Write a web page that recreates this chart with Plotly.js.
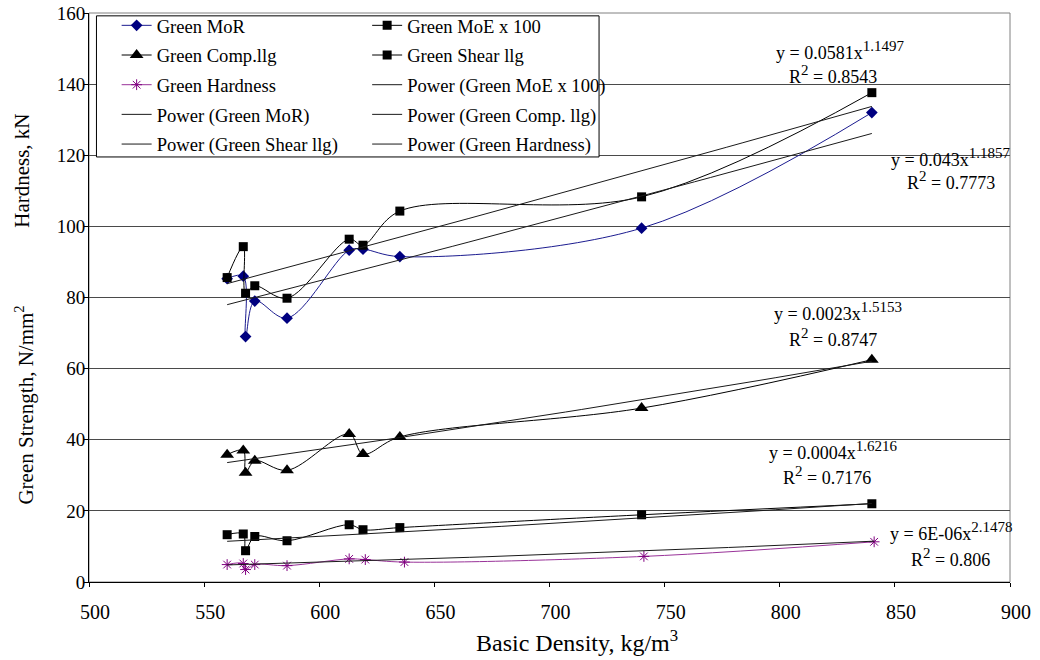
<!DOCTYPE html>
<html>
<head>
<meta charset="utf-8">
<script src="https://cdn.plot.ly/plotly-3.0.1.min.js"></script>
<style>html,body{margin:0;padding:0;background:#fff;}#chart{width:1040px;height:660px;}</style>
</head>
<body>
<div id="chart"></div>
<script>
// ---- data ----
const density = [560, 567, 568, 572, 586, 613, 619, 635, 740, 840];
const densityHardness = [560, 567, 568, 572, 586, 613, 620, 637, 741, 841];
const greenMoR = [85.3, 86.0, 69.0, 79.0, 74.2, 93.3, 93.6, 91.5, 99.5, 132.0];
const greenMoE100 = [85.6, 94.3, 81.2, 83.3, 79.8, 96.4, 94.7, 104.3, 108.3, 137.6];
const greenComp = [35.8, 37.0, 30.7, 34.1, 31.4, 41.6, 36.0, 40.8, 48.9, 62.5];
const greenShear = [13.3, 13.5, 8.8, 12.8, 11.6, 16.1, 14.7, 15.3, 18.9, 22.0];
const greenHardness = [4.9, 5.2, 3.5, 4.9, 4.6, 6.5, 6.3, 5.6, 7.2, 11.3];

// power trendline coefficients as printed on the chart (y = a x^b)
const trendNames = ["Power (Green MoE x 100)", "Power (Green MoR)", "Power (Green Comp. llg)", "Power (Green Shear llg)", "Power (Green Hardness)"];
const trendA = [0.0581, 0.043, 0.0023, 0.0004, 6e-6];
const trendB = [1.1497, 1.1857, 1.5153, 1.6216, 2.1478];
const trendR2 = ["0.8543", "0.7773", "0.8747", "0.7176", "0.806"];
const trendCoefText = ["0.0581", "0.043", "0.0023", "0.0004", "6E-06"];
const trendExpText = ["1.1497", "1.1857", "1.5153", "1.6216", "2.1478"];

const FONT = "Liberation Serif, Times New Roman, serif";

function powerCurve(a, b, xs) {
  const x0 = Math.min(...xs), x1 = Math.max(...xs);
  const X = [], Y = [];
  const n = 40;
  for (let i = 0; i <= n; i++) {
    const x = x0 + (x1 - x0) * i / n;
    X.push(x); Y.push(a * Math.pow(x, b));
  }
  return {X, Y};
}

const traces = [];
function series(name, xs, ys, legend, marker, lineColor) {
  traces.push({
    type: 'scatter', mode: 'lines+markers', name: name, x: xs, y: ys,
    legend: legend, legendgroup: name,
    line: {color: lineColor, width: 1, shape: 'spline', smoothing: 1},
    marker: marker, cliponaxis: false
  });
}
series("Green MoR", density, greenMoR, 'legend', {symbol: 'diamond', size: 9, color: '#000080'}, '#1c1c90');
series("Green MoE x 100", density, greenMoE100, 'legend2', {symbol: 'square', size: 9, color: '#000000'}, '#000000');
series("Green Comp.llg", density, greenComp, 'legend', {symbol: 'triangle-up', size: 12, color: '#000000'}, '#000000');
series("Green Shear llg", density, greenShear, 'legend2', {symbol: 'square', size: 9, color: '#000000'}, '#000000');
series("Green Hardness", densityHardness, greenHardness, 'legend', {symbol: 'asterisk-open', size: 9, color: '#800080', line: {color: '#800080', width: 1}}, '#993399');

const trendSrc = [density, density, density, density, densityHardness];
const trendLegend = ['legend2', 'legend', 'legend2', 'legend', 'legend2'];
for (let i = 0; i < 5; i++) {
  const c = powerCurve(trendA[i], trendB[i], trendSrc[i]);
  traces.push({
    type: 'scatter', mode: 'lines', name: trendNames[i], x: c.X, y: c.Y,
    legend: trendLegend[i], legendgroup: trendNames[i],
    line: {color: '#1a1a1a', width: 1}
  });
}

// equation label positions (data coords)
const eqPos = [
  [826, 149.5, 823, 142.8],
  [874, 119.5, 874.4, 112.8],
  [825.5, 76.2, 823, 68.7],
  [823.3, 36.9, 820.7, 30.0],
  [874.4, 14.2, 874, 7.0]
];
function sup(t) { return '<sup><span style="font-size:15px">' + t + '</span></sup>'; }
const annotations = [];
for (let i = 0; i < 5; i++) {
  annotations.push({xref: 'x', yref: 'y', x: eqPos[i][0], y: eqPos[i][1], showarrow: false,
    text: 'y = ' + trendCoefText[i] + 'x' + sup(trendExpText[i]),
    font: {family: FONT, size: 18, color: '#000'}, xanchor: 'center', yanchor: 'middle'});
  annotations.push({xref: 'x', yref: 'y', x: eqPos[i][2], y: eqPos[i][3], showarrow: false,
    text: 'R' + sup('2') + ' = ' + trendR2[i],
    font: {family: FONT, size: 18, color: '#000'}, xanchor: 'center', yanchor: 'middle'});
}
annotations.push({xref: 'paper', yref: 'paper', x: -0.0721, y: 0.722, showarrow: false, textangle: -90,
  xanchor: 'center', yanchor: 'middle',
  text: 'Hardness, kN', font: {family: FONT, size: 21, color: '#000'}});
annotations.push({xref: 'paper', yref: 'paper', x: -0.070, y: 0.311, showarrow: false, textangle: -90,
  xanchor: 'center', yanchor: 'middle',
  text: 'Green Strength, N/mm<sup>2</sup>', font: {family: FONT, size: 21, color: '#000'}});
annotations.push({xref: 'paper', yref: 'paper', x: 0.53, y: -0.104, showarrow: false,
  xanchor: 'center', yanchor: 'middle',
  text: 'Basic Density, kg/m<sup>3</sup>', font: {family: FONT, size: 24, color: '#000'}});

const legendBase = {
  bgcolor: 'rgba(0,0,0,0)', borderwidth: 0, xanchor: 'left', yanchor: 'top',
  font: {family: FONT, size: 18.6, color: '#000'}, traceorder: 'grouped', tracegroupgap: 2.5,
  itemclick: false
};

const layout = {
  width: 1040, height: 660,
  margin: {l: 88.5, r: 29.7, t: 12.5, b: 77.5, autoexpand: false},
  paper_bgcolor: '#fff', plot_bgcolor: '#fff',
  showlegend: true,
  font: {family: FONT, color: '#000'},
  xaxis: {
    range: [500, 900], tick0: 500, dtick: 50, ticks: 'outside', ticklen: 4, tickcolor: '#000',
    showline: true, linecolor: '#000', linewidth: 1, showgrid: false, zeroline: false,
    tickfont: {family: FONT, size: 20, color: '#000'}, ticklabelstandoff: 8, ticklabelshift: 6,
    automargin: false
  },
  yaxis: {
    range: [0, 160], tick0: 0, dtick: 20, ticks: 'outside', ticklen: 4, tickcolor: '#000',
    showline: true, linecolor: '#000', linewidth: 1, showgrid: true, gridcolor: '#4a4a4a', gridwidth: 1,
    zeroline: false, tickfont: {family: FONT, size: 19, color: '#000'}, ticklabelstandoff: -5,
    automargin: false
  },
  legend: Object.assign({}, legendBase, {x: 0.030, y: 1.011}),
  legend2: Object.assign({}, legendBase, {x: 0.302, y: 1.011}),
  shapes: [
    {type: 'rect', xref: 'paper', yref: 'paper', x0: 0, x1: 1, y0: 0, y1: 1,
      line: {color: '#808080', width: 1}, layer: 'below'},
    {type: 'rect', xref: 'paper', yref: 'paper', x0: 0.0081, x1: 0.5538, y0: 0.747, y1: 0.995,
      line: {color: '#000', width: 1}, fillcolor: '#fff', layer: 'above'}
  ],
  annotations: annotations
};

Plotly.newPlot('chart', traces, layout, {displayModeBar: false, staticPlot: true});
</script>
</body>
</html>
